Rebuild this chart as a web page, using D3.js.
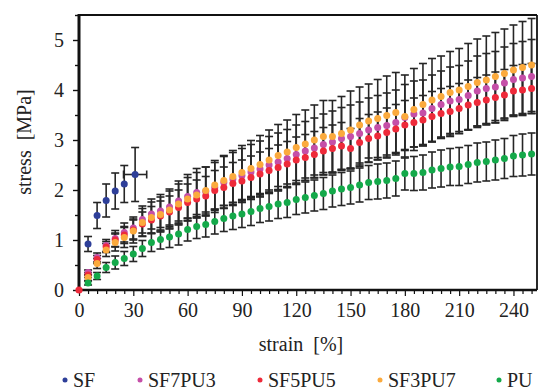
<!DOCTYPE html>
<html>
<head>
<meta charset="utf-8">
<script src="https://cdn.jsdelivr.net/npm/d3@7"></script>
<style>
  body { margin: 0; background: #fff; }
  svg { display: block; }
</style>
</head>
<body>
<svg id="chart"></svg>
<script>
// DATA
const seriesNames = ["SF", "SF7PU3", "SF5PU5", "SF3PU7", "PU"];
const seriesColors = ["#2e3f99", "#c54fa8", "#ee2a3a", "#fbaa3d", "#14a94a"];

// silk fibroin (short curve, last point has a strain error too)
const sfStrain = [5, 10, 15, 20, 25, 31];
const sfStress = [0.92, 1.49, 1.79, 1.98, 2.12, 2.31];
const sfErr = [0.15, 0.26, 0.33, 0.36, 0.37, 0.54];
const sfStrainErr = [0, 0, 0, 0, 0, 6.4];

// strain steps of the blends
const strain = [5, 10, 15, 20, 25, 30, 35, 40, 45, 50, 55, 60, 65, 70, 75, 80, 85, 90, 95, 100,
  105, 110, 115, 120, 125, 130, 135, 140, 145, 150, 155, 160, 165, 170, 175, 180, 185, 190, 195, 200,
  205, 210, 215, 220, 225, 230, 235, 240, 245, 250];

const sf7pu3 = [0.35, 0.65, 0.89, 1.03, 1.15, 1.24, 1.41, 1.52, 1.58, 1.66, 1.78, 1.87, 1.95, 1.97, 2.05, 2.15, 2.22, 2.29, 2.36, 2.42,
  2.50, 2.56, 2.63, 2.71, 2.78, 2.84, 2.91, 2.96, 3.03, 3.07, 3.13, 3.20, 3.25, 3.29, 3.35, 3.45, 3.52, 3.54, 3.63, 3.71,
  3.78, 3.81, 3.89, 3.98, 4.03, 4.06, 4.14, 4.21, 4.24, 4.27];
const sf7pu3Err = [0.05, 0.09, 0.12, 0.16, 0.19, 0.22, 0.27, 0.30, 0.33, 0.36, 0.40, 0.44, 0.48, 0.49, 0.50, 0.52, 0.53, 0.54, 0.55, 0.56,
  0.57, 0.58, 0.58, 0.59, 0.59, 0.60, 0.61, 0.62, 0.62, 0.63, 0.63, 0.64, 0.64, 0.65, 0.65, 0.66, 0.66, 0.66, 0.67, 0.67,
  0.68, 0.68, 0.69, 0.70, 0.70, 0.71, 0.72, 0.72, 0.73, 0.74];

const sf5pu5 = [0.30, 0.61, 0.86, 1.00, 1.10, 1.20, 1.32, 1.40, 1.48, 1.56, 1.65, 1.75, 1.82, 1.88, 1.99, 2.05, 2.13, 2.18, 2.25, 2.32,
  2.39, 2.45, 2.52, 2.60, 2.65, 2.71, 2.78, 2.83, 2.88, 2.83, 2.95, 3.03, 3.08, 3.15, 3.22, 3.30, 3.35, 3.40, 3.47, 3.53,
  3.57, 3.63, 3.70, 3.75, 3.80, 3.85, 3.90, 3.98, 4.00, 4.03];
const sf5pu5Err = [0.05, 0.08, 0.11, 0.14, 0.17, 0.20, 0.24, 0.27, 0.30, 0.32, 0.35, 0.37, 0.38, 0.39, 0.40, 0.41, 0.42, 0.42, 0.43, 0.44,
  0.44, 0.45, 0.45, 0.46, 0.46, 0.46, 0.47, 0.47, 0.47, 0.40, 0.48, 0.48, 0.48, 0.49, 0.49, 0.49, 0.49, 0.49, 0.50, 0.50,
  0.50, 0.50, 0.50, 0.50, 0.50, 0.51, 0.51, 0.51, 0.51, 0.50];

const sf3pu7 = [0.25, 0.53, 0.80, 0.95, 1.05, 1.18, 1.35, 1.45, 1.51, 1.60, 1.72, 1.82, 1.90, 1.99, 2.10, 2.19, 2.27, 2.35, 2.43, 2.51,
  2.60, 2.69, 2.76, 2.85, 2.92, 3.00, 3.07, 3.07, 3.13, 3.20, 3.30, 3.38, 3.43, 3.49, 3.55, 3.47, 3.61, 3.71, 3.80, 3.87,
  3.95, 4.00, 4.07, 4.15, 4.20, 4.27, 4.33, 4.40, 4.45, 4.50];
const sf3pu7Err = [0.06, 0.10, 0.13, 0.17, 0.20, 0.24, 0.28, 0.31, 0.35, 0.38, 0.40, 0.43, 0.45, 0.47, 0.49, 0.50, 0.52, 0.54, 0.56, 0.58,
  0.60, 0.62, 0.64, 0.66, 0.68, 0.70, 0.72, 0.72, 0.74, 0.78, 0.76, 0.74, 0.78, 0.79, 0.80, 0.83, 0.82, 0.82, 0.83, 0.81,
  0.82, 0.83, 0.86, 0.87, 0.88, 0.88, 0.89, 0.90, 0.92, 0.93];

const pu = [0.14, 0.28, 0.45, 0.55, 0.63, 0.72, 0.83, 0.95, 1.01, 1.06, 1.12, 1.21, 1.27, 1.31, 1.37, 1.43, 1.48, 1.52, 1.57, 1.63,
  1.67, 1.72, 1.75, 1.81, 1.85, 1.89, 1.93, 1.98, 2.02, 2.05, 2.10, 2.15, 2.17, 2.19, 2.23, 2.33, 2.33, 2.35, 2.40, 2.43,
  2.46, 2.47, 2.51, 2.55, 2.57, 2.60, 2.63, 2.68, 2.70, 2.72];
const puErr = [0.04, 0.07, 0.10, 0.13, 0.14, 0.15, 0.16, 0.18, 0.19, 0.21, 0.22, 0.23, 0.24, 0.25, 0.25, 0.26, 0.27, 0.27, 0.28, 0.28,
  0.29, 0.29, 0.30, 0.30, 0.31, 0.31, 0.32, 0.32, 0.33, 0.33, 0.34, 0.34, 0.35, 0.35, 0.35, 0.33, 0.34, 0.35, 0.36, 0.37,
  0.37, 0.38, 0.38, 0.39, 0.39, 0.40, 0.40, 0.41, 0.42, 0.42];

// every curve starts at the origin, shown once in red
const originPoint = { name: "SF5PU5", strain: 0, stress: 0 };

const xTicks = [0, 30, 60, 90, 120, 150, 180, 210, 240];
const yTicks = [0, 1, 2, 3, 4, 5];

// SETUP
const W = 539, H = 390;
const margin = { top: 15, right: 2, bottom: 100, left: 79 };
const width = W - margin.left - margin.right,
      height = H - margin.top - margin.bottom;
const serif = "'Liberation Serif'";
const fontSize = 20;

const svg = d3.select("#chart").attr("width", W).attr("height", H);
const g = svg.append("g").attr("transform", `translate(${margin.left},${margin.top})`);

const xScale = d3.scaleLinear().domain([0, 253]).range([0, width]);
const yScale = d3.scaleLinear().domain([0, 5.5]).range([height, 0]);
const colorScale = d3.scaleOrdinal().domain(seriesNames).range(seriesColors);

// build point lists
function makePoints(name, xs, ys, es, xes) {
    return xs.map((x, i) => ({ name: name, strain: x, stress: ys[i], err: es[i], xerr: xes ? xes[i] : 0 }));
}
const blends = [
    makePoints("SF", sfStrain, sfStress, sfErr, sfStrainErr),
    makePoints("SF7PU3", strain, sf7pu3, sf7pu3Err),
    makePoints("SF5PU5", strain, sf5pu5, sf5pu5Err),
    makePoints("SF3PU7", strain, sf3pu7, sf3pu7Err),
    makePoints("PU", strain, pu, puErr)
];
const allPoints = blends.flat();

// AXES
const xAxis = g.append("g")
    .attr("transform", `translate(0,${height})`)
    .call(d3.axisBottom(xScale).tickValues(d3.range(0, 251, 5)).tickSize(4).tickFormat(""));
xAxis.select(".domain").remove();
xAxis.selectAll(".tick line").attr("stroke", "#111").attr("stroke-width", 1.2)
    .attr("y2", d => d % 30 === 0 ? 6 : 4);

const xLabels = g.append("g")
    .attr("transform", `translate(0,${height})`)
    .call(d3.axisBottom(xScale).tickValues(xTicks).tickSize(0).tickPadding(13).tickFormat(d3.format("d")));
xLabels.select(".domain").remove();
xLabels.selectAll("text").attr("fill", "#222")
    .style("font-family", serif).style("font-size", fontSize + "px");

const yAxis = g.append("g")
    .call(d3.axisLeft(yScale).tickValues(d3.range(0, 5.51, 0.5)).tickSize(5).tickFormat(""));
yAxis.select(".domain").remove();
yAxis.selectAll(".tick line").attr("stroke", "#111").attr("stroke-width", 1.4)
    .attr("x2", d => Number.isInteger(d) ? -6 : -4);

const yLabels = g.append("g")
    .call(d3.axisLeft(yScale).tickValues(yTicks).tickSize(0).tickPadding(15).tickFormat(d3.format("d")));
yLabels.select(".domain").remove();
yLabels.selectAll("text").attr("fill", "#222")
    .style("font-family", serif).style("font-size", fontSize + "px");

// frame
g.append("line").attr("x1", 0).attr("x2", width).attr("y1", 0).attr("y2", 0)
    .attr("stroke", "#111").attr("stroke-width", 2);
g.append("line").attr("x1", width).attr("x2", width).attr("y1", 0).attr("y2", height)
    .attr("stroke", "#111").attr("stroke-width", 1.8);
g.append("line").attr("x1", 0).attr("x2", width).attr("y1", height).attr("y2", height)
    .attr("stroke", "#111").attr("stroke-width", 2.6);
g.append("line").attr("x1", 0).attr("x2", 0).attr("y1", -1).attr("y2", height + 1)
    .attr("stroke", "#111").attr("stroke-width", 3);

// axis titles
svg.append("text")
    .attr("x", 301).attr("y", 351)
    .attr("text-anchor", "middle")
    .attr("fill", "#222")
    .style("font-family", serif).style("font-size", fontSize + "px")
    .text("strain\u2002[%]");

svg.append("text")
    .attr("transform", "translate(31,142) rotate(-90)")
    .attr("text-anchor", "middle")
    .attr("fill", "#222")
    .style("font-family", serif).style("font-size", fontSize + "px")
    .text("stress\u2002[MPa]");

// ERROR BARS (under the points)
const errG = g.append("g").attr("stroke", "#262626").attr("stroke-width", 1.6).attr("fill", "none");
const cap = 4;
allPoints.forEach(d => {
    const cx = xScale(d.strain);
    const y1 = yScale(d.stress + d.err), y0 = yScale(d.stress - d.err);
    errG.append("line").attr("x1", cx).attr("x2", cx).attr("y1", y1).attr("y2", y0);
    errG.append("line").attr("x1", cx - cap).attr("x2", cx + cap).attr("y1", y1).attr("y2", y1);
    errG.append("line").attr("x1", cx - cap).attr("x2", cx + cap).attr("y1", y0).attr("y2", y0);
    if (d.xerr > 0) {
        const cy = yScale(d.stress);
        const xa = xScale(d.strain - d.xerr), xb = xScale(d.strain + d.xerr);
        errG.append("line").attr("x1", xa).attr("x2", xb).attr("y1", cy).attr("y2", cy);
        errG.append("line").attr("x1", xa).attr("x2", xa).attr("y1", cy - cap).attr("y2", cy + cap);
        errG.append("line").attr("x1", xb).attr("x2", xb).attr("y1", cy - cap).attr("y2", cy + cap);
    }
});

// POINTS
blends.forEach(points => {
    g.append("g").selectAll("circle")
        .data(points)
        .enter()
        .append("circle")
        .attr("cx", d => xScale(d.strain))
        .attr("cy", d => yScale(d.stress))
        .attr("r", 3.5)
        .attr("fill", d => colorScale(d.name));
});
g.append("circle")
    .attr("cx", xScale(originPoint.strain))
    .attr("cy", yScale(originPoint.stress))
    .attr("r", 3.6)
    .attr("fill", colorScale(originPoint.name));

// LEGEND
const legendX = [65, 140, 260, 380, 499];
const legend = svg.append("g").selectAll("g")
    .data(seriesNames)
    .enter()
    .append("g")
    .attr("transform", (d, i) => `translate(${legendX[i]},380)`);
legend.append("circle").attr("r", 2.5).attr("fill", d => colorScale(d));
legend.append("text")
    .attr("x", 8).attr("y", 7)
    .attr("fill", "#222")
    .style("font-family", serif).style("font-size", fontSize + "px")
    .text(d => d);
</script>
</body>
</html>
